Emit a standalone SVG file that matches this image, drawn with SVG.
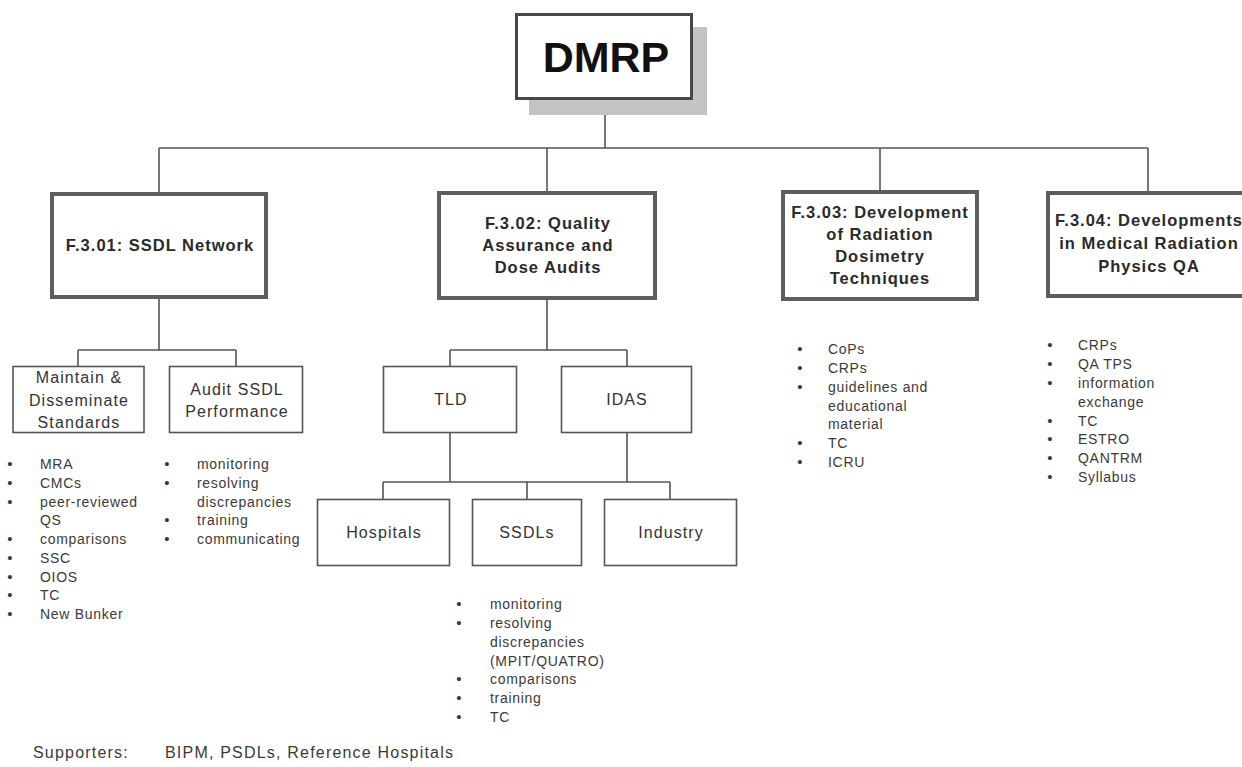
<svg xmlns="http://www.w3.org/2000/svg" width="1242" height="767" viewBox="0 0 1242 767">
<style>
text{font-family:"Liberation Sans",Arial,sans-serif;fill:#2a2a2a}
.big{fill:#fff;stroke:#5e5e5e;stroke-width:4}
.sm{fill:#fff;stroke:#555;stroke-width:1.6}
.ttl{font-size:16.5px;font-weight:bold;letter-spacing:1px;text-anchor:middle}
.lbl{font-size:16px;letter-spacing:1.1px;text-anchor:middle;fill:#333}
.b{font-size:14px;letter-spacing:0.7px;fill:#3a3a3a}
.dot{font-size:15px;fill:#3a3a3a;text-anchor:middle}
.conn{fill:none;stroke:#555;stroke-width:1.6}
.sup{font-size:16px;letter-spacing:1.2px}
.dm{font-size:43px;font-weight:bold;text-anchor:middle;fill:#111}
</style>
<rect width="1242" height="767" fill="#fff"/>
<g id="connectors" class="conn">
<path d="M605 100V148M159 148H1148M159 148V192M547 148V191M880 148V190M1148 148V191"/>
<path d="M159 299V350M78 350H236M78 350V366M236 350V366"/>
<path d="M547 300V350M450 350H627M450 350V366M627 350V366"/>
<path d="M450 433V482M627 433V482M383 482H670M383 482V499M527 482V499M670 482V499"/>
</g>
<g id="dmrp">
<rect x="529" y="27" width="178" height="88" fill="#c4c4c4"/>
<rect x="516.5" y="14.5" width="175" height="84" fill="#fff" stroke="#474747" stroke-width="3"/>
<text class="dm" x="606" y="72">DMRP</text>
</g>
<g id="f301">
<rect class="big" x="52" y="194" width="214" height="103"/>
<text class="ttl" x="160" y="251">F.3.01: SSDL Network</text>
</g>
<g id="f302">
<rect class="big" x="439" y="193" width="216" height="105"/>
<text class="ttl" x="548" y="229">F.3.02: Quality</text>
<text class="ttl" x="548" y="251">Assurance and</text>
<text class="ttl" x="548" y="273">Dose Audits</text>
</g>
<g id="f303">
<rect class="big" x="783" y="192" width="194" height="107"/>
<text class="ttl" x="880" y="218">F.3.03: Development</text>
<text class="ttl" x="880" y="240">of Radiation</text>
<text class="ttl" x="880" y="262">Dosimetry</text>
<text class="ttl" x="880" y="284">Techniques</text>
</g>
<g id="f304">
<rect class="big" x="1048" y="193" width="204" height="103"/>
<text class="ttl" x="1149" y="226">F.3.04: Developments</text>
<text class="ttl" x="1149" y="249">in Medical Radiation</text>
<text class="ttl" x="1149" y="272">Physics QA</text>
</g>
<g id="maintain">
<rect class="sm" x="13" y="366.5" width="131" height="66"/>
<text class="lbl" x="79" y="383">Maintain &amp;</text>
<text class="lbl" x="79" y="406">Disseminate</text>
<text class="lbl" x="79" y="428">Standards</text>
</g>
<g id="audit">
<rect class="sm" x="169.5" y="366.5" width="133" height="66"/>
<text class="lbl" x="237" y="395">Audit SSDL</text>
<text class="lbl" x="237" y="417">Performance</text>
</g>
<g id="tld">
<rect class="sm" x="383.5" y="366.5" width="133" height="66"/>
<text class="lbl" x="451" y="405">TLD</text>
</g>
<g id="idas">
<rect class="sm" x="561.5" y="366.5" width="130" height="66"/>
<text class="lbl" x="627" y="405">IDAS</text>
</g>
<g id="hospitals">
<rect class="sm" x="317.5" y="499.5" width="132" height="66"/>
<text class="lbl" x="384" y="538">Hospitals</text>
</g>
<g id="ssdls">
<rect class="sm" x="472.5" y="499.5" width="109" height="66"/>
<text class="lbl" x="527" y="538">SSDLs</text>
</g>
<g id="industry">
<rect class="sm" x="604.5" y="499.5" width="132" height="66"/>
<text class="lbl" x="671" y="538">Industry</text>
</g>
<g id="list-maintain">
<text class="dot" x="10" y="469">•</text><text class="b" x="40" y="469">MRA</text>
<text class="dot" x="10" y="488">•</text><text class="b" x="40" y="488">CMCs</text>
<text class="dot" x="10" y="507">•</text><text class="b" x="40" y="507">peer-reviewed</text>
<text class="b" x="40" y="525">QS</text>
<text class="dot" x="10" y="544">•</text><text class="b" x="40" y="544">comparisons</text>
<text class="dot" x="10" y="563">•</text><text class="b" x="40" y="563">SSC</text>
<text class="dot" x="10" y="582">•</text><text class="b" x="40" y="582">OIOS</text>
<text class="dot" x="10" y="600">•</text><text class="b" x="40" y="600">TC</text>
<text class="dot" x="10" y="619">•</text><text class="b" x="40" y="619">New Bunker</text>
</g>
<g id="list-audit">
<text class="dot" x="167" y="469">•</text><text class="b" x="197" y="469">monitoring</text>
<text class="dot" x="167" y="488">•</text><text class="b" x="197" y="488">resolving</text>
<text class="b" x="197" y="507">discrepancies</text>
<text class="dot" x="167" y="525">•</text><text class="b" x="197" y="525">training</text>
<text class="dot" x="167" y="544">•</text><text class="b" x="197" y="544">communicating</text>
</g>
<g id="list-ssdls">
<text class="dot" x="459" y="609">•</text><text class="b" x="490" y="609">monitoring</text>
<text class="dot" x="459" y="628">•</text><text class="b" x="490" y="628">resolving</text>
<text class="b" x="490" y="647">discrepancies</text>
<text class="b" x="490" y="666">(MPIT/QUATRO)</text>
<text class="dot" x="459" y="684">•</text><text class="b" x="490" y="684">comparisons</text>
<text class="dot" x="459" y="703">•</text><text class="b" x="490" y="703">training</text>
<text class="dot" x="459" y="722">•</text><text class="b" x="490" y="722">TC</text>
</g>
<g id="list-f303">
<text class="dot" x="800" y="354">•</text><text class="b" x="828" y="354">CoPs</text>
<text class="dot" x="800" y="373">•</text><text class="b" x="828" y="373">CRPs</text>
<text class="dot" x="800" y="392">•</text><text class="b" x="828" y="392">guidelines and</text>
<text class="b" x="828" y="411">educational</text>
<text class="b" x="828" y="429">material</text>
<text class="dot" x="800" y="448">•</text><text class="b" x="828" y="448">TC</text>
<text class="dot" x="800" y="467">•</text><text class="b" x="828" y="467">ICRU</text>
</g>
<g id="list-f304">
<text class="dot" x="1050" y="350">•</text><text class="b" x="1078" y="350">CRPs</text>
<text class="dot" x="1050" y="369">•</text><text class="b" x="1078" y="369">QA TPS</text>
<text class="dot" x="1050" y="388">•</text><text class="b" x="1078" y="388">information</text>
<text class="b" x="1078" y="407">exchange</text>
<text class="dot" x="1050" y="426">•</text><text class="b" x="1078" y="426">TC</text>
<text class="dot" x="1050" y="444">•</text><text class="b" x="1078" y="444">ESTRO</text>
<text class="dot" x="1050" y="463">•</text><text class="b" x="1078" y="463">QANTRM</text>
<text class="dot" x="1050" y="482">•</text><text class="b" x="1078" y="482">Syllabus</text>
</g>
<g id="supporters">
<text class="b sup" x="33" y="758">Supporters:</text>
<text class="b sup" x="165" y="758">BIPM, PSDLs, Reference Hospitals</text>
</g>
</svg>
